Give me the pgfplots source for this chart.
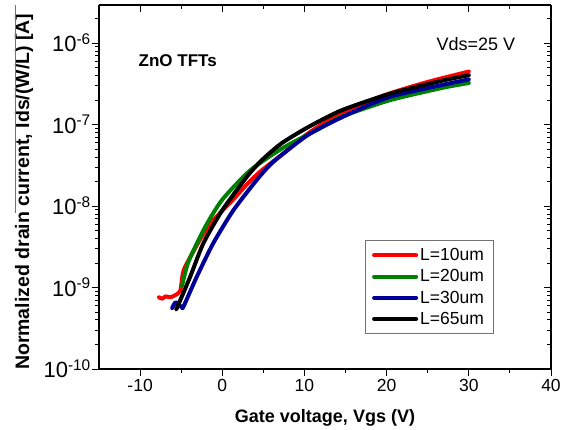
\documentclass[border=0pt]{standalone}
\usepackage{pgfplots}
\pgfplotsset{compat=1.18}
\usepackage{fontspec}
\setmainfont{Liberation Sans}
\definecolor{cRed}{RGB}{255,0,0}
\definecolor{cGreen}{RGB}{0,128,0}
\definecolor{cBlue}{RGB}{0,0,150}
\pgfplotsset{
  tftframe/.style={
    at={(99bp,61bp)}, anchor=south west,
    width=452bp, height=364bp, scale only axis,
    xmin=-15, xmax=40, log basis y=10,
    ymin=1e-10, ymax=2.95e-6,
    xtick={-10,0,10,20,30,40}, minor x tick num=1,
    ytick={1e-10,1e-9,1e-8,1e-7,1e-6},
    minor ytick={2e-10,3e-10,4e-10,5e-10,6e-10,7e-10,8e-10,9e-10,
      2e-9,3e-9,4e-9,5e-9,6e-9,7e-9,8e-9,9e-9,
      2e-8,3e-8,4e-8,5e-8,6e-8,7e-8,8e-8,9e-8,
      2e-7,3e-7,4e-7,5e-7,6e-7,7e-7,8e-7,9e-7,2e-6},
    axis line style={line width=1.1bp},
    every tick/.style={line width=1bp, black},
    major tick length=7bp, minor tick length=4bp,
  },
  tft/.style={line width=4bp, line cap=round, line join=round, smooth, tension=0.4},
}
\begin{document}
\begin{tikzpicture}
\path[use as bounding box] (0,0) rectangle (569bp,430bp);
% mirrored frame, ticks inside
\begin{semilogyaxis}[tftframe,
    axis x line*=top, axis y line*=right, tick align=inside,
    xticklabels={}, yticklabels={}]
\end{semilogyaxis}
\begin{semilogyaxis}[tftframe,
    axis x line*=bottom, axis y line*=left, tick align=outside,
    /pgf/number format/assume math mode=true,
    xticklabel style={font=\fontsize{17.5bp}{20bp}\selectfont},
    yticklabel style={font=\fontsize{22bp}{26bp}\selectfont, anchor=base east, inner sep=1bp, yshift=-8.5bp},
    yticklabel={10\textsuperscript{\pgfmathparse{int(round(\tick))}\pgfmathresult}},
    xlabel={Gate voltage, Vgs (V)},
    xlabel style={font=\bfseries\fontsize{18bp}{21bp}\selectfont, at={(axis description cs:0.5,-0.148)}, anchor=base},
    ylabel={Normalized drain current, Ids/(W/L) [A]},
    ylabel style={font=\bfseries\fontsize{19.5bp}{23bp}\selectfont, at={(axis description cs:-0.166,0.487)}, anchor=center, rotate=0},
    legend cell align=left,
    legend style={at={(axis description cs:0.872,0.096)}, anchor=south east,
      draw=black!55, line width=0.6bp, font=\fontsize{17.5bp}{21bp}\selectfont,
      inner xsep=7bp, inner ysep=6bp, row sep=3.5bp},
    legend image code/.code={\draw[#1] (0bp,0bp) -- (42bp,0bp);},
  ]
\addplot[tft, color=cRed] coordinates {
  (-7.7,7.6e-10) (-7.3,7.3e-10) (-6.9,7.8e-10) (-6.3,7.6e-10) (-5.6,8.2e-10)
  (-5.1,9.2e-10) (-4.8,1.5e-9) (-4.4,1.9e-9) (-2.7,3.9e-9) (-1.5,6.0e-9)
  (0,8.8e-9) (1.3,1.2e-8) (3,1.85e-8) (4.6,2.65e-8) (7.4,4.4e-8) (10.5,7.9e-8)
  (14.5,1.4e-7) (20,2.35e-7) (25,3.35e-7) (30,4.5e-7)};
\addlegendentry{L=10um}
\addplot[tft, color=cGreen] coordinates {
  (-4.9,1.05e-9) (-4.1,2.1e-9) (-2.1,5.5e-9) (0,1.2e-8) (3.4,2.75e-8)
  (7.4,5.2e-8) (11.5,8.6e-8) (14.5,1.25e-7) (20.4,2.0e-7) (26.9,2.85e-7)
  (30,3.25e-7)};
\addlegendentry{L=20um}
\addplot[tft, color=cBlue] coordinates {
  (-6.1,5.6e-10) (-5.7,6.6e-10) (-5.3,6.2e-10) (-4.9,5.7e-10) (-4.7,5.9e-10)
  (-3.1,1.36e-9) (-1.1,3.5e-9) (1.35,8.9e-9) (4.2,2.1e-8) (5.8,3.2e-8) (7.4,4.4e-8)
  (10.7,7.8e-8) (15.5,1.37e-7) (20.4,2.2e-7) (26.9,3.1e-7) (30,3.6e-7)};
\addlegendentry{L=30um}
\addplot[tft, color=black] coordinates {
  (-5.6,5.4e-10) (-5.46,5.8e-10) (-3.9,1.36e-9) (-2.3,3.5e-9) (0,8.9e-9)
  (3,2.3e-8) (4.8,3.66e-8) (7.2,5.9e-8) (10.5,9.4e-8) (14.5,1.5e-7)
  (20.4,2.4e-7) (26.9,3.5e-7) (30,4.05e-7)};
\addlegendentry{L=65um}
\node[anchor=base west, font=\bfseries\fontsize{17bp}{20bp}\selectfont]
  at (rel axis cs:0.080,0.830) {ZnO TFTs};
\node[anchor=base west, font=\fontsize{18bp}{21bp}\selectfont]
  at (rel axis cs:0.739,0.876) {Vds=25 V};
\end{semilogyaxis}
\draw[black!55, line width=0.8bp] (15bp,425bp) -- (15bp,217bp);
\end{tikzpicture}
\end{document}
